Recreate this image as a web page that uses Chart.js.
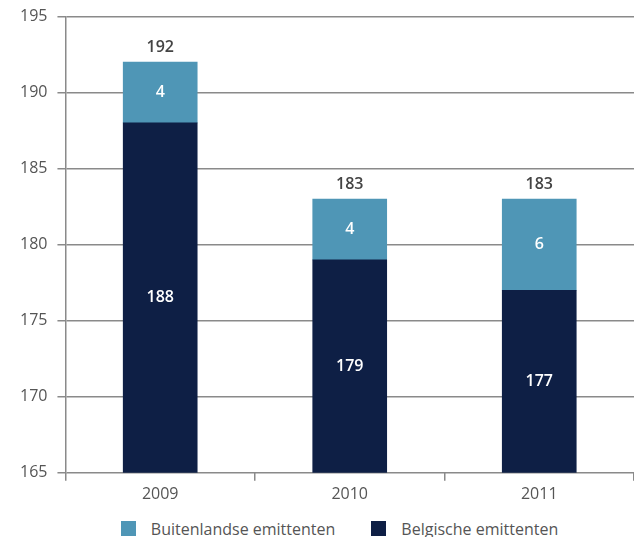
<!DOCTYPE html>
<html lang="nl">
<head>
  <meta charset="UTF-8">
  <title>Emittenten 2009-2011</title>
  <script src="https://cdn.jsdelivr.net/npm/chart.js"></script>
  <style>
    body {
      margin: 0;
      background: #ffffff;
      font-family: "Open Sans", sans-serif;
    }
    #wrap {
      position: relative;
      width: 634px;
      height: 537px;
      overflow: hidden;
    }
    #legend {
      position: absolute;
      left: 45px;
      right: 0;
      top: 519px;
      display: flex;
      justify-content: center;
      gap: 36px;
      color: #555555;
      font-size: 16px;
      line-height: 20px;
    }
    #legend .item {
      display: flex;
      align-items: flex-start;
    }
    #legend .box {
      width: 15px;
      height: 15px;
      margin-top: 2px;
      margin-right: 15px;
    }
  </style>
</head>
<body>
  <div id="wrap">
    <canvas id="emittentenChart" width="634" height="508"></canvas>
    <div id="legend"></div>
  </div>

  <script>
    const years = ['2009', '2010', '2011'];
    const belgisch = [188, 179, 177];
    const buitenlands = [4, 4, 6];
    const totals = [192, 183, 183];

    const darkBlue = '#0e1f45';
    const lightBlue = '#4f96b6';
    const gridGrey = '#8a8a8a';
    const textGrey = '#555555';
    const fontFamily = '"Open Sans", sans-serif';

    // values inside the bars and totals above each stack
    const barLabels = {
      id: 'barLabels',
      afterDatasetsDraw(chart) {
        const ctx = chart.ctx;
        const y = chart.scales.y;
        const area = chart.chartArea;
        ctx.save();
        ctx.textAlign = 'center';
        ctx.textBaseline = 'middle';
        ctx.font = '600 16px ' + fontFamily;
        chart.data.datasets.forEach((ds, i) => {
          const meta = chart.getDatasetMeta(i);
          meta.data.forEach((bar, j) => {
            const top = bar.y;
            const bottom = Math.min(bar.base, area.bottom);
            ctx.fillStyle = '#ffffff';
            ctx.fillText(String(ds.data[j]), bar.x, (top + bottom) / 2);
          });
        });
        const topMeta = chart.getDatasetMeta(1);
        topMeta.data.forEach((bar, j) => {
          ctx.fillStyle = '#444444';
          ctx.fillText(String(totals[j]), bar.x, y.getPixelForValue(totals[j]) - 15);
        });
        ctx.restore();
      }
    };

    const chart = new Chart(document.getElementById('emittentenChart'), {
      type: 'bar',
      data: {
        labels: years,
        datasets: [
          {
            label: 'Belgische emittenten',
            data: belgisch,
            backgroundColor: darkBlue,
            borderWidth: 0,
            barThickness: 74
          },
          {
            label: 'Buitenlandse emittenten',
            data: buitenlands,
            backgroundColor: lightBlue,
            borderWidth: 0,
            barThickness: 74
          }
        ]
      },
      options: {
        responsive: false,
        animation: false,
        layout: {
          padding: { left: 10, right: 0, top: 0, bottom: 0 }
        },
        plugins: {
          legend: { display: false },
          tooltip: { enabled: false }
        },
        scales: {
          x: {
            stacked: true,
            border: { display: false },
            grid: {
              drawOnChartArea: false,
              color: gridGrey,
              lineWidth: 1.5,
              tickLength: 8
            },
            ticks: {
              color: textGrey,
              font: { family: fontFamily, size: 16 },
              padding: 4
            }
          },
          y: {
            stacked: true,
            min: 165,
            max: 195,
            border: { display: true, color: gridGrey, width: 1.5 },
            grid: {
              color: gridGrey,
              lineWidth: 1.5,
              tickLength: 8
            },
            ticks: {
              stepSize: 5,
              color: textGrey,
              font: { family: fontFamily, size: 16, lineHeight: 0.8 },
              padding: 10
            }
          }
        }
      },
      plugins: [barLabels]
    });

    // legend below the canvas, top stack segment first
    const legend = document.getElementById('legend');
    chart.data.datasets.slice().reverse().forEach(ds => {
      const item = document.createElement('div');
      item.className = 'item';
      const box = document.createElement('span');
      box.className = 'box';
      box.style.background = ds.backgroundColor;
      const text = document.createElement('span');
      text.textContent = ds.label;
      item.appendChild(box);
      item.appendChild(text);
      legend.appendChild(item);
    });
  </script>
</body>
</html>
